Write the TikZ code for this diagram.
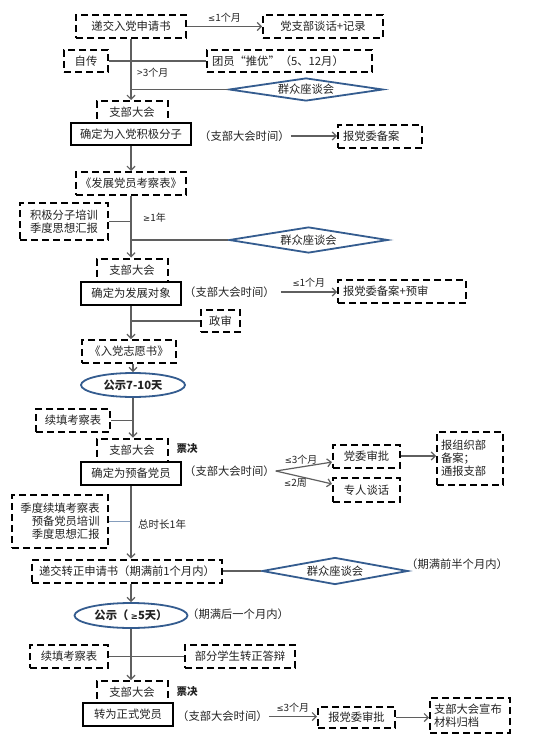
\documentclass[tikz,border=0pt]{standalone}
\usepackage{fontspec}
\setmainfont{Noto Sans CJK SC}
\newfontfamily\symfont{DejaVu Sans}
\newcommand{\lesym}{{\symfont\fontsize{8.5}{10}\selectfont ≤}}
\newcommand{\gesym}{{\symfont\fontsize{8.5}{10}\selectfont ≥}}
\usetikzlibrary{positioning, arrows.meta, shapes.geometric}
\definecolor{linegray}{RGB}{95,95,95}
\definecolor{talkblue}{RGB}{52,92,143}
\definecolor{textgray}{RGB}{35,35,35}

\begin{document}
\begin{tikzpicture}[x=1pt, y=-1pt,
    every node/.style={font=\fontsize{11.3}{13}\selectfont, text=textgray},
    dbox/.style={draw=black, line width=2pt, dash pattern=on 7pt off 4pt,
                 minimum height=23, inner sep=2pt, fill=white},
    mainbox/.style={draw=black, line width=2.6pt, minimum height=23,
                    inner sep=2pt, fill=white},
    talk/.style={diamond, draw=talkblue, line width=1.8pt, aspect=6.5,
                 inner sep=0pt, fill=white},
    pub/.style={ellipse, draw=talkblue, line width=1.8pt, inner sep=0pt,
                fill=white, font=\fontsize{11.3}{13}\selectfont\bfseries},
    note/.style={inner sep=1pt, anchor=west},
    lab/.style={font=\fontsize{10}{12}\selectfont, inner sep=1pt},
    vote/.style={font=\fontsize{10.5}{12}\selectfont\bfseries, inner sep=1pt},
    link/.style={draw=linegray, line width=1.2pt},
    flow/.style={link, -{Straight Barb[length=4pt, width=8pt]}},
  ]
    \useasboundingbox (0,0) rectangle (553,738);
    % branch meetings (drawn first, the vote boxes sit on them)
    \foreach \y/\name in {112.5/zb1, 270/zb2, 450/zb3, 692.5/zb4}
      \node[dbox, minimum width=71] (\name) at (132,\y) {支部大会};
    % application
    \node[dbox, minimum width=110] (apply) at (131,26.5) {递交入党申请书};
    \node[dbox, minimum width=120] (chat) at (323,26.5) {党支部谈话+记录};
    \node[dbox, minimum width=44, minimum height=22] (bio) at (86,61) {自传};
    \node[dbox, minimum width=165, minimum height=22, text width=155, align=left]
      (youth) at (289.5,61) {团员“推优”（5、12月）};
    \node[talk, minimum width=154, minimum height=23] (talk1) at (306,89.5) {群众座谈会};
    \node[lab, anchor=west] (gap1) at (136,73) {>3个月};
    % activist
    \node[mainbox, minimum width=120, minimum height=22] (activist) at (131,134) {确定为入党积极分子};
    \node[note] (time1) at (198,136) {（支部大会时间）};
    \node[dbox, minimum width=84, text width=74, align=left] (file1) at (380,136.5) {报党委备案};
    \node[dbox, minimum width=110] (form) at (131,183.5) {《发展党员考察表》};
    \node[dbox, minimum width=88, minimum height=37, align=center]
      (train1) at (64,221.5) {积极分子培训\\季度思想汇报};
    \node[lab, anchor=west] (year1) at (142,218) {\gesym 1年};
    \node[talk, minimum width=159, minimum height=26] (talk2) at (308.5,240) {群众座谈会};
    % development target
    \node[mainbox, minimum width=100] (target) at (131,293.5) {确定为发展对象};
    \node[note] (time2) at (183,292) {（支部大会时间）};
    \node[dbox, minimum width=128, text width=118, align=left] (file2) at (402,291) {报党委备案+预审};
    \node[dbox, minimum width=39, minimum height=22] (check) at (220.5,321) {政审};
    \node[dbox, minimum width=94] (pledge) at (129,351.5) {《入党志愿书》};
    \node[pub, minimum width=104, minimum height=24] (show1) at (133,385) {公示7-10天};
    \node[dbox, minimum width=74] (refill1) at (73,420.5) {续填考察表};
    % probationary member
    \node[vote] (vote1) at (187,449) {票决};
    \node[mainbox, minimum width=100] (prob) at (131,473.5) {确定为预备党员};
    \node[note] (time3) at (183,471) {（支部大会时间）};
    \node[dbox, minimum width=67] (approve1) at (366.5,456) {党委审批};
    \node[dbox, minimum width=67, minimum height=24] (mentor) at (366.5,490) {专人谈话};
    \node[dbox, minimum width=66, minimum height=53, text width=58, align=left]
      (org) at (470,458.5) {报组织部\\备案；\\通报支部};
    \node[dbox, minimum width=96, minimum height=53, align=right]
      (train2) at (60,521.5) {季度续填考察表\\预备党员培训\\季度思想汇报};
    \node[lab, anchor=west, font=\fontsize{10.5}{12}\selectfont] (year2) at (137,524) {总时长1年};
    % full member
    \node[dbox, minimum width=190] (regular) at (127,571) {递交转正申请书（期满前1个月内）};
    \node[talk, minimum width=146, minimum height=27] (talk3) at (335,571) {群众座谈会};
    \node[note] (half) at (405,564) {（期满前半个月内）};
    \node[pub, minimum width=113, minimum height=25] (show2) at (131,615.5) {公示（ \gesym 5天）};
    \node[note] (after) at (186,614) {（期满后一个月内）};
    \node[dbox, minimum width=78] (refill2) at (69,656.5) {续填考察表};
    \node[dbox, minimum width=110] (defend) at (240,656.5) {部分学生转正答辩};
    \node[vote] (vote2) at (187,692) {票决};
    \node[mainbox, minimum width=90] (full) at (128,714.5) {转为正式党员};
    \node[note] (time4) at (176,716.5) {（支部大会时间）};
    \node[dbox, minimum width=77, minimum height=21] (approve2) at (356.5,717.5) {报党委审批};
    \node[dbox, minimum width=80, minimum height=35, text width=72, align=left]
      (archive) at (470,715.5) {支部大会宣布\\材料归档};
    % connectors
    \draw[flow] (apply.east) -- (chat.west) node[lab, midway, above=3pt] {\lesym 1个月};
    \draw[flow] (apply.south) -- (apply.south |- zb1.north);
    \draw[link] (bio.east) -- (youth.west);
    \draw[link] (talk1.west) -- (talk1.west -| apply.south);
    \draw[flow] (time1.east) -- (time1.east -| file1.west);
    \draw[flow] (activist.south) -- (form.north);
    \draw[flow] (form.south) -- (form.south |- zb2.north);
    \draw[link] (train1.east) -- (train1.east -| form.south);
    \draw[link] (talk2.west) -- (talk2.west -| form.south);
    \draw[flow] ([xshift=5pt]time2.east) -- (time2.east -| file2.west)
      node[lab, midway, above=3pt] {\lesym 1个月};
    \draw[flow] (target.south) -- (target.south |- pledge.north);
    \draw[link] (check.west) -- (check.west -| target.south);
    \draw[flow] (pledge.south -| show1.north) -- (show1.north);
    \draw[flow] (show1.south) -- (show1.south |- zb3.north);
    \draw[link] (refill1.east) -- (refill1.east -| show1.south);
    \draw[flow] (time3.east) -- (approve1.190) node[lab, pos=0.45, above=1pt] {\lesym 3个月};
    \draw[flow] (time3.east) -- (mentor.170) node[lab, pos=0.35, below=1pt] {\lesym 2周};
    \draw[flow] (approve1.east) -- (approve1.east -| org.west);
    \draw[link, draw=talkblue!60, line width=0.8pt] (train2.east) -- (train2.east -| prob.south);
    \draw[flow] (prob.south) -- (prob.south |- regular.north);
    \draw[link] (regular.east) -- (talk3.west);
    \draw[flow] (regular.south -| show2.north) -- (show2.north);
    \draw[flow] (show2.south) -- (show2.south |- zb4.north);
    \draw[link] (refill2.east) -- (defend.west);
    \draw[flow] (time4.east) -- (time4.east -| approve2.west)
      node[lab, midway, above=3pt] {\lesym 3个月};
    \draw[flow] (approve2.east) -- (approve2.east -| archive.west);
  \end{tikzpicture}
\end{document}
